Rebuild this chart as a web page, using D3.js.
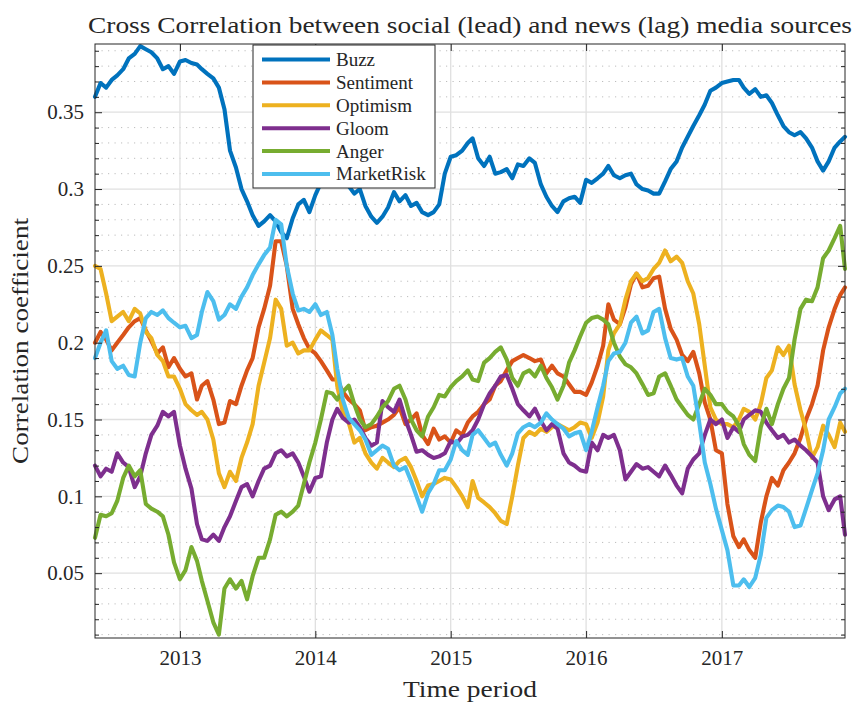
<!DOCTYPE html>
<html lang="en">
<head>
<meta charset="utf-8">
<title>Cross Correlation</title>
<script src="https://cdnjs.cloudflare.com/ajax/libs/d3/7.8.5/d3.min.js"></script>
<style>
  body { margin: 0; background: #fff; }
  svg text { font-family: "Liberation Serif", "DejaVu Serif", serif; fill: #262626; }
  .tick line { stroke: #262626; }
</style>
</head>
<body>
<div id="chart"></div>
<script>
// sample dates (1st and 16th of each month)
var dates = (
  "2012-05-17 2012-06-01 2012-06-16 2012-07-01 2012-07-16 2012-08-01 2012-08-16 2012-09-01 2012-09-16 2012-10-01 2012-10-16 2012-11-01 2012-11-16 2012-12-01 2012-12-16 " +
  "2013-01-01 2013-01-16 2013-02-01 2013-02-16 2013-03-01 2013-03-16 2013-04-01 2013-04-16 2013-05-01 2013-05-16 2013-06-01 2013-06-16 2013-07-01 2013-07-16 2013-08-01 2013-08-16 2013-09-01 2013-09-16 2013-10-01 2013-10-16 2013-11-01 2013-11-16 2013-12-01 2013-12-16 " +
  "2014-01-01 2014-01-16 2014-02-01 2014-02-16 2014-03-01 2014-03-16 2014-04-01 2014-04-16 2014-05-01 2014-05-16 2014-06-01 2014-06-16 2014-07-01 2014-07-16 2014-08-01 2014-08-16 2014-09-01 2014-09-16 2014-10-01 2014-10-16 2014-11-01 2014-11-16 2014-12-01 2014-12-16 " +
  "2015-01-01 2015-01-16 2015-02-01 2015-02-16 2015-03-01 2015-03-16 2015-04-01 2015-04-16 2015-05-01 2015-05-16 2015-06-01 2015-06-16 2015-07-01 2015-07-16 2015-08-01 2015-08-16 2015-09-01 2015-09-16 2015-10-01 2015-10-16 2015-11-01 2015-11-16 2015-12-01 2015-12-16 " +
  "2016-01-01 2016-01-16 2016-02-01 2016-02-16 2016-03-01 2016-03-16 2016-04-01 2016-04-16 2016-05-01 2016-05-16 2016-06-01 2016-06-16 2016-07-01 2016-07-16 2016-08-01 2016-08-16 2016-09-01 2016-09-16 2016-10-01 2016-10-16 2016-11-01 2016-11-16 2016-12-01 2016-12-16 " +
  "2017-01-01 2017-01-16 2017-02-01 2017-02-16 2017-03-01 2017-03-16 2017-04-01 2017-04-16 2017-05-01 2017-05-16 2017-06-01 2017-06-16 2017-07-01 2017-07-16 2017-08-01 2017-08-16 2017-09-01 2017-09-16 2017-10-01 2017-10-16 2017-11-01 2017-11-16 2017-11-29"
).split(" ");

var buzz = [
  0.360,0.369,0.366,0.371,0.374,0.378,0.385,0.388,0.393,0.391,0.389,0.385,0.378,0.380,0.375,
  0.383,0.384,0.382,0.381,0.378,0.375,0.372,0.366,0.352,0.325,0.314,0.300,0.292,0.283,0.276,0.279,0.283,0.279,0.272,0.268,0.281,0.290,0.293,0.285,
  0.296,0.304,0.307,0.311,0.305,0.303,0.302,0.297,0.300,0.289,0.282,0.278,0.282,0.288,0.298,0.292,0.296,0.289,0.291,0.285,0.283,0.285,0.290,0.310,
  0.321,0.322,0.325,0.330,0.333,0.320,0.315,0.321,0.310,0.311,0.313,0.307,0.316,0.315,0.320,0.317,0.303,0.295,0.289,0.285,0.292,0.294,0.295,0.291,
  0.306,0.304,0.307,0.310,0.315,0.309,0.307,0.309,0.310,0.303,0.300,0.299,0.297,0.297,0.305,0.313,0.318,0.327,0.334,0.341,0.348,0.355,0.364,0.366,
  0.369,0.370,0.371,0.371,0.366,0.362,0.365,0.360,0.361,0.356,0.348,0.341,0.337,0.335,0.337,0.333,0.327,0.318,0.312,0.318,0.327,0.331,0.334
];
var sentiment = [
  0.200,0.207,0.202,0.195,0.200,0.205,0.210,0.214,0.216,0.208,0.201,0.193,0.197,0.184,0.190,
  0.183,0.178,0.180,0.163,0.172,0.175,0.163,0.147,0.148,0.162,0.160,0.172,0.182,0.190,0.210,0.222,0.237,0.266,0.266,0.250,0.222,0.212,0.203,0.196,
  0.193,0.188,0.182,0.176,0.176,0.168,0.163,0.160,0.156,0.143,0.145,0.146,0.148,0.150,0.153,0.158,0.147,0.150,0.154,0.140,0.134,0.144,0.137,0.139,
  0.135,0.143,0.140,0.148,0.152,0.155,0.160,0.163,0.172,0.175,0.182,0.188,0.190,0.192,0.190,0.188,0.189,0.180,0.185,0.180,0.178,0.173,0.168,0.168,
  0.166,0.174,0.185,0.198,0.225,0.215,0.212,0.223,0.238,0.245,0.236,0.237,0.242,0.243,0.222,0.209,0.202,0.192,0.188,0.194,0.180,0.161,0.150,0.130,
  0.128,0.095,0.074,0.067,0.072,0.065,0.060,0.083,0.100,0.112,0.107,0.117,0.122,0.128,0.138,0.150,0.160,0.172,0.195,0.210,0.222,0.231,0.236
];
var optimism = [
  0.250,0.248,0.232,0.214,0.217,0.220,0.214,0.222,0.219,0.207,0.203,0.192,0.188,0.178,0.178,
  0.170,0.160,0.156,0.153,0.155,0.150,0.137,0.115,0.106,0.116,0.110,0.125,0.135,0.147,0.172,0.187,0.203,0.228,0.222,0.198,0.200,0.193,0.195,0.195,
  0.202,0.208,0.205,0.202,0.172,0.155,0.148,0.135,0.138,0.128,0.122,0.118,0.125,0.122,0.119,0.123,0.125,0.119,0.110,0.100,0.107,0.108,0.110,0.112,
  0.111,0.106,0.100,0.093,0.110,0.099,0.096,0.093,0.089,0.084,0.082,0.100,0.120,0.138,0.142,0.140,0.144,0.142,0.145,0.147,0.145,0.143,0.145,0.148,
  0.147,0.138,0.148,0.165,0.195,0.206,0.212,0.228,0.240,0.245,0.240,0.242,0.248,0.252,0.260,0.253,0.256,0.252,0.240,0.232,0.212,0.185,0.158,0.150,
  0.147,0.147,0.145,0.150,0.157,0.155,0.150,0.160,0.177,0.182,0.197,0.192,0.198,0.173,0.156,0.143,0.125,0.132,0.146,0.140,0.132,0.148,0.142
];
var gloom = [
  0.120,0.113,0.118,0.116,0.128,0.122,0.119,0.106,0.113,0.128,0.140,0.146,0.155,0.152,0.155,
  0.133,0.118,0.105,0.082,0.072,0.071,0.075,0.071,0.080,0.087,0.097,0.106,0.108,0.100,0.110,0.118,0.120,0.128,0.130,0.126,0.128,0.122,0.113,0.103,
  0.112,0.113,0.135,0.150,0.157,0.151,0.148,0.150,0.145,0.138,0.133,0.135,0.162,0.158,0.155,0.163,0.150,0.140,0.129,0.130,0.127,0.125,0.126,0.128,
  0.136,0.134,0.139,0.140,0.143,0.150,0.160,0.167,0.172,0.178,0.179,0.170,0.160,0.156,0.152,0.157,0.149,0.143,0.147,0.144,0.128,0.122,0.120,0.117,
  0.116,0.135,0.130,0.140,0.138,0.140,0.130,0.111,0.116,0.121,0.118,0.119,0.116,0.113,0.120,0.114,0.107,0.102,0.118,0.124,0.128,0.140,0.150,0.147,
  0.150,0.138,0.145,0.142,0.150,0.153,0.156,0.155,0.148,0.143,0.138,0.140,0.135,0.137,0.133,0.130,0.126,0.122,0.100,0.091,0.098,0.100,0.075
];
var anger = [
  0.073,0.088,0.087,0.089,0.097,0.112,0.120,0.113,0.117,0.095,0.092,0.090,0.087,0.075,0.057,
  0.046,0.052,0.067,0.058,0.045,0.032,0.018,0.010,0.040,0.046,0.040,0.045,0.033,0.048,0.060,0.060,0.072,0.088,0.090,0.087,0.090,0.094,0.108,0.122,
  0.135,0.150,0.168,0.167,0.163,0.168,0.172,0.160,0.150,0.145,0.147,0.152,0.158,0.162,0.170,0.172,0.163,0.150,0.143,0.139,0.152,0.158,0.166,0.165,
  0.171,0.175,0.178,0.182,0.176,0.175,0.187,0.190,0.194,0.197,0.189,0.177,0.172,0.180,0.182,0.178,0.185,0.177,0.171,0.163,0.172,0.187,0.195,0.204,
  0.213,0.216,0.217,0.215,0.212,0.200,0.191,0.186,0.184,0.180,0.173,0.166,0.167,0.178,0.180,0.172,0.163,0.158,0.153,0.150,0.160,0.170,0.166,0.160,
  0.160,0.155,0.152,0.146,0.134,0.127,0.123,0.145,0.157,0.147,0.160,0.170,0.177,0.202,0.222,0.228,0.227,0.236,0.255,0.260,0.268,0.276,0.248
];
var marketRisk = [
  0.190,0.200,0.208,0.188,0.183,0.185,0.179,0.178,0.200,0.216,0.220,0.218,0.221,0.216,0.213,
  0.210,0.211,0.203,0.205,0.220,0.233,0.227,0.215,0.218,0.225,0.222,0.230,0.236,0.244,0.251,0.257,0.262,0.280,0.277,0.250,0.232,0.221,0.222,0.220,
  0.225,0.218,0.220,0.205,0.183,0.163,0.151,0.147,0.143,0.137,0.127,0.130,0.133,0.131,0.120,0.117,0.119,0.110,0.100,0.090,0.102,0.108,0.117,0.117,
  0.124,0.136,0.130,0.127,0.140,0.143,0.138,0.133,0.135,0.127,0.120,0.128,0.141,0.145,0.147,0.145,0.148,0.154,0.150,0.147,0.144,0.139,0.141,0.142,
  0.130,0.142,0.158,0.172,0.188,0.193,0.194,0.200,0.213,0.217,0.206,0.208,0.220,0.222,0.203,0.190,0.189,0.190,0.178,0.172,0.148,0.122,0.108,0.092,
  0.078,0.065,0.042,0.042,0.046,0.041,0.047,0.062,0.086,0.091,0.094,0.093,0.090,0.080,0.081,0.092,0.104,0.115,0.130,0.150,0.158,0.167,0.170
];

var seriesNames = ["Buzz", "Sentiment", "Optimism", "Gloom", "Anger", "MarketRisk"];
var seriesValues = [buzz, sentiment, optimism, gloom, anger, marketRisk];
var colors = ["#0072BD", "#D95319", "#EDB120", "#7E2F8E", "#77AC30", "#4DBEEE"];

var yTicks = [0.05, 0.1, 0.15, 0.2, 0.25, 0.3, 0.35];
var yTickLabels = ["0.05", "0.1", "0.15", "0.2", "0.25", "0.3", "0.35"];
var xTicks = ["2013-01-01", "2014-01-01", "2015-01-01", "2016-01-01", "2017-01-01"];
var xTickLabels = ["2013", "2014", "2015", "2016", "2017"];

var serif = '"Liberation Serif", "DejaVu Serif", serif';

var margin = {top: 44, right: 11, bottom: 64, left: 95},
    width = 856 - margin.left - margin.right,
    height = 702 - margin.top - margin.bottom;

var parse = d3.utcParse("%Y-%m-%d");

var svg = d3.select("#chart")
  .append("svg")
    .attr("width", 856)
    .attr("height", 702);

var g = svg.append("g")
    .attr("transform", "translate(" + margin.left + "," + margin.top + ")");

var x = d3.scaleUtc()
  .domain([parse("2012-05-17"), parse("2017-11-29")])
  .range([0, width]);

var y = d3.scaleLinear()
  .domain([0.0078, 0.3944])
  .range([height, 0]);

var xTickDates = xTicks.map(parse);
var yMinor = d3.range(1, 40).map(function(i) { return i / 100; })
  .filter(function(v) { return Math.round(v * 100) % 5 !== 0; });

// grid
g.append("g").selectAll("line.minor")
  .data(yMinor)
  .enter().append("line")
    .attr("x1", 0).attr("x2", width)
    .attr("y1", function(d) { return y(d); })
    .attr("y2", function(d) { return y(d); })
    .attr("stroke", "#bdbdbd")
    .attr("stroke-width", 1)
    .attr("stroke-dasharray", "1.2,5.3");

g.append("g").selectAll("line.major")
  .data(yTicks)
  .enter().append("line")
    .attr("x1", 0).attr("x2", width)
    .attr("y1", function(d) { return y(d); })
    .attr("y2", function(d) { return y(d); })
    .attr("stroke", "#e0e0e0")
    .attr("stroke-width", 1.3);

g.append("g").selectAll("line.xgrid")
  .data(xTickDates)
  .enter().append("line")
    .attr("y1", 0).attr("y2", height)
    .attr("x1", function(d) { return x(d); })
    .attr("x2", function(d) { return x(d); })
    .attr("stroke", "#e0e0e0")
    .attr("stroke-width", 1.3);

// series
var line = d3.line()
  .x(function(d, i) { return x(parse(dates[i])); })
  .y(function(d) { return y(d); });

g.append("g").selectAll("path.series")
  .data(seriesValues)
  .enter().append("path")
    .attr("class", "series")
    .attr("d", line)
    .attr("fill", "none")
    .attr("stroke", function(d, i) { return colors[i]; })
    .attr("stroke-width", 4.1)
    .attr("stroke-linejoin", "round")
    .attr("stroke-linecap", "round");

// axes (ticks inward, box)
function styleAxis(sel) {
  sel.attr("font-family", serif);
  sel.select(".domain").remove();
  sel.selectAll(".tick text")
    .style("font-family", serif)
    .style("font-size", "21px")
    .attr("fill", "#262626");
}

g.append("g")
  .attr("transform", "translate(0," + height + ")")
  .call(d3.axisBottom(x).tickValues(xTickDates).tickSizeInner(-7).tickSizeOuter(0).tickPadding(12)
    .tickFormat(function(d, i) { return xTickLabels[i]; }))
  .call(styleAxis);

g.append("g")
  .call(d3.axisTop(x).tickValues(xTickDates).tickSizeInner(-7).tickSizeOuter(0).tickFormat(""))
  .call(styleAxis);

g.append("g")
  .call(d3.axisLeft(y).tickValues(yTicks).tickSizeInner(-7).tickSizeOuter(0).tickPadding(11)
    .tickFormat(function(d, i) { return yTickLabels[i]; }))
  .call(styleAxis);

g.append("g")
  .call(d3.axisLeft(y).tickValues(yMinor).tickSizeInner(-4).tickSizeOuter(0).tickFormat(""))
  .call(styleAxis);

g.append("g")
  .attr("transform", "translate(" + width + ",0)")
  .call(d3.axisRight(y).tickValues(yTicks).tickSizeInner(-7).tickSizeOuter(0).tickFormat(""))
  .call(styleAxis);

g.append("g")
  .attr("transform", "translate(" + width + ",0)")
  .call(d3.axisRight(y).tickValues(yMinor).tickSizeInner(-4).tickSizeOuter(0).tickFormat(""))
  .call(styleAxis);

g.append("rect")
  .attr("width", width)
  .attr("height", height)
  .attr("fill", "none")
  .attr("stroke", "#262626")
  .attr("stroke-width", 1);

// labels
svg.append("text")
  .attr("x", 470)
  .attr("y", 33)
  .attr("text-anchor", "middle")
  .attr("textLength", 764)
  .attr("lengthAdjust", "spacingAndGlyphs")
  .style("font-size", "24px")
  .attr("fill", "#000")
  .text("Cross Correlation between social (lead) and news (lag) media sources");

svg.append("text")
  .attr("x", 470)
  .attr("y", 697)
  .attr("text-anchor", "middle")
  .attr("textLength", 134)
  .attr("lengthAdjust", "spacingAndGlyphs")
  .style("font-size", "24px")
  .text("Time period");

svg.append("text")
  .attr("transform", "translate(28," + (margin.top + height / 2) + ") rotate(-90)")
  .attr("text-anchor", "middle")
  .attr("textLength", 246)
  .attr("lengthAdjust", "spacingAndGlyphs")
  .style("font-size", "24px")
  .text("Correlation coefficient");

// legend
var legend = svg.append("g").attr("transform", "translate(253,45)");
legend.append("rect")
  .attr("width", 182)
  .attr("height", 143)
  .attr("fill", "#fff")
  .attr("stroke", "#262626")
  .attr("stroke-width", 1);

var items = legend.selectAll("g.item")
  .data(seriesNames)
  .enter().append("g")
    .attr("transform", function(d, i) { return "translate(0," + (14.5 + i * 22.9) + ")"; });

items.append("line")
  .attr("x1", 9).attr("x2", 77)
  .attr("stroke", function(d, i) { return colors[i]; })
  .attr("stroke-width", 4);

items.append("text")
  .attr("x", 83)
  .attr("dy", "0.34em")
  .style("font-family", serif)
  .style("font-size", "19px")
  .text(function(d) { return d; });
</script>
</body>
</html>
